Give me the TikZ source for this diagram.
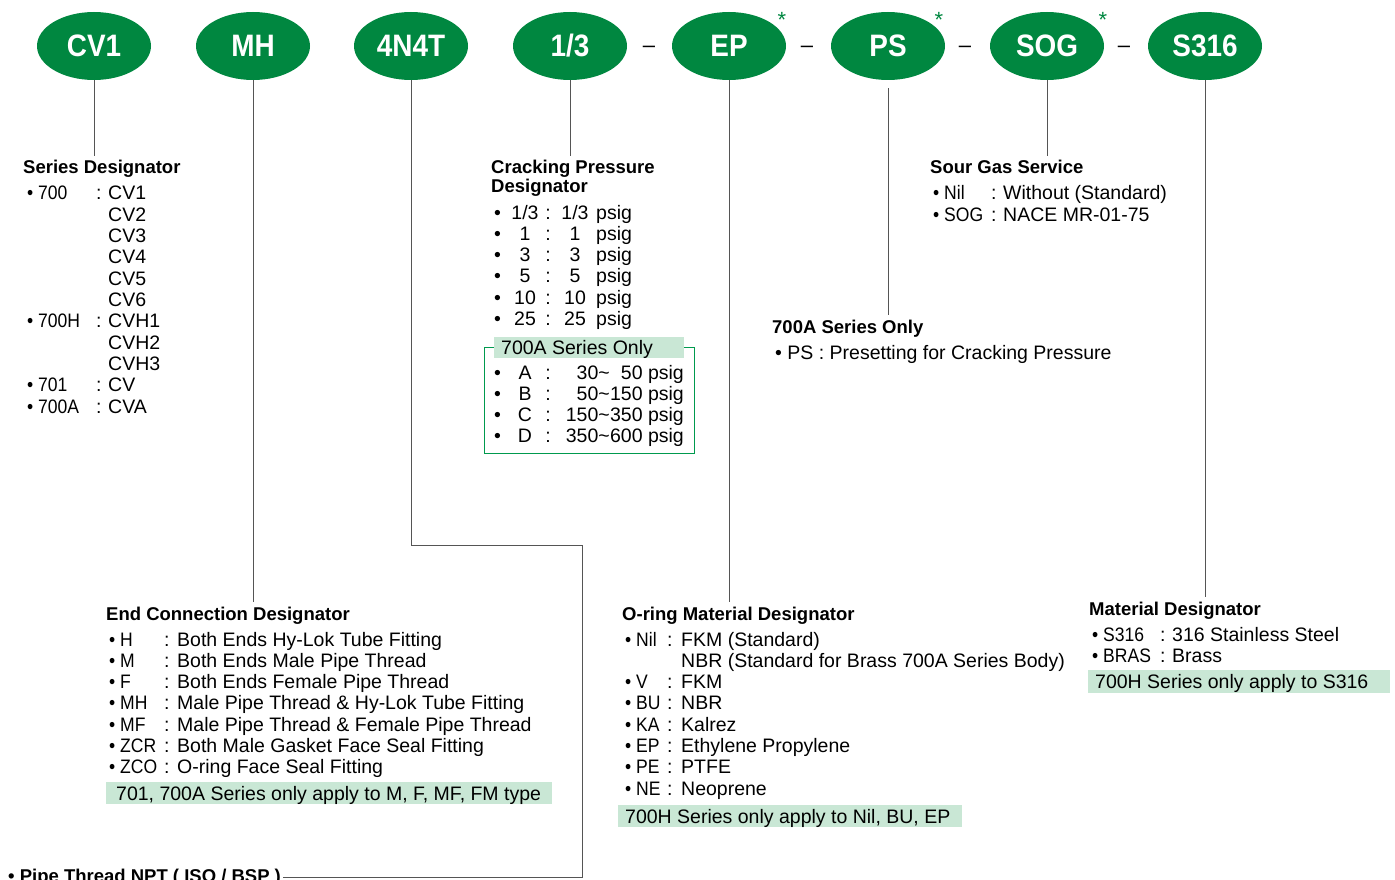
\documentclass[tikz,border=0pt]{standalone}
\usepackage{fontspec}
\setmainfont{Liberation Sans}
\usetikzlibrary{shapes.geometric}
\definecolor{hygreen}{RGB}{0,135,64}
\definecolor{hylight}{RGB}{201,231,213}
\definecolor{hyline}{RGB}{85,85,85}
\definecolor{hybox}{RGB}{0,154,78}
\tikzset{
  code/.style={ellipse, fill=hygreen, text=white, minimum width=114pt, minimum height=68pt, inner sep=0pt, font=\bfseries\fontsize{31}{31}\selectfont\addfontfeature{FakeStretch=0.9}},
  head/.style={anchor=base west, inner sep=0pt, font=\bfseries\fontsize{18.5}{19}\selectfont},
  txt/.style={anchor=base west, inner sep=0pt, font=\fontsize{19.5}{20}\selectfont},
  key/.style={txt, font=\fontsize{19.5}{20}\selectfont\addfontfeature{FakeStretch=0.9}},
  txtr/.style={txt, anchor=base east},
  txtc/.style={txt, anchor=base},
  sep/.style={anchor=base, inner sep=0pt, font=\fontsize{22}{22}\selectfont},
  lead/.style={draw=hyline, line width=1pt, shorten >=4pt},
  star/.style={text=hygreen, inner sep=0pt, font=\fontsize{22}{22}\selectfont}
}
\begin{document}
\begin{tikzpicture}[x=1pt,y=-1pt]
\useasboundingbox (0,0) rectangle (1395,880);
% ordering code
\node[code] (cv) at (94,46) {CV1};
\node[code] (mh) at (253,46) {MH};
\node[code] (nt) at (411,46) {4N4T};
\node[code] (cp) at (570,46) {1/3};
\node[code] (ep) at (729,46) {EP};
\node[code] (ps) at (888,46) {PS};
\node[code] (sg) at (1047,46) {SOG};
\node[code] (mt) at (1205,46) {S316};
\node[sep] (dash1) at (649,53) {–};
\node[sep] (dash2) at (807,53) {–};
\node[sep] (dash3) at (965,53) {–};
\node[sep] (dash4) at (1124,53) {–};
\node[star] (ast1) at (782,20) {*};
\node[star] (ast2) at (939,20) {*};
\node[star] (ast3) at (1103,20) {*};

% series
\node[head] (serieshd) at (23,174) {Series Designator};
\node[key] (se1) at (27,200) {• 700};
\node[txt] (se1c) at (96,200) {:};
\node[txt] (se1v) at (108,200) {CV1};
\node[txt] (se2v) at (108,221.3) {CV2};
\node[txt] (se3v) at (108,242.6) {CV3};
\node[txt] (se4v) at (108,263.9) {CV4};
\node[txt] (se5v) at (108,285.2) {CV5};
\node[txt] (se6v) at (108,306.5) {CV6};
\node[key] (se7) at (27,327.8) {• 700H};
\node[txt] (se7c) at (96,327.8) {:};
\node[txt] (se7v) at (108,327.8) {CVH1};
\node[txt] (se8v) at (108,349.1) {CVH2};
\node[txt] (se9v) at (108,370.4) {CVH3};
\node[key] (se10) at (27,391.7) {• 701};
\node[txt] (se10c) at (96,391.7) {:};
\node[txt] (se10v) at (108,391.7) {CV};
\node[key] (se11) at (27,413) {• 700A};
\node[txt] (se11c) at (96,413) {:};
\node[txt] (se11v) at (108,413) {CVA};

% cracking pressure
\node[head, align=left] (crackhd) at (491,193) {Cracking Pressure\\Designator};
\node[txt] (cr1b) at (494,219) {•};
\node[txtc] (cr1k) at (525,219) {1/3};
\node[txtc] (cr1c) at (548,219) {:};
\node[txtc] (cr1v) at (575,219) {1/3};
\node[txt] (cr1u) at (596,219) {psig};
\node[txt] (cr2b) at (494,240.3) {•};
\node[txtc] (cr2k) at (525,240.3) {1};
\node[txtc] (cr2c) at (548,240.3) {:};
\node[txtc] (cr2v) at (575,240.3) {1};
\node[txt] (cr2u) at (596,240.3) {psig};
\node[txt] (cr3b) at (494,261.6) {•};
\node[txtc] (cr3k) at (525,261.6) {3};
\node[txtc] (cr3c) at (548,261.6) {:};
\node[txtc] (cr3v) at (575,261.6) {3};
\node[txt] (cr3u) at (596,261.6) {psig};
\node[txt] (cr4b) at (494,282.9) {•};
\node[txtc] (cr4k) at (525,282.9) {5};
\node[txtc] (cr4c) at (548,282.9) {:};
\node[txtc] (cr4v) at (575,282.9) {5};
\node[txt] (cr4u) at (596,282.9) {psig};
\node[txt] (cr5b) at (494,304.2) {•};
\node[txtc] (cr5k) at (525,304.2) {10};
\node[txtc] (cr5c) at (548,304.2) {:};
\node[txtc] (cr5v) at (575,304.2) {10};
\node[txt] (cr5u) at (596,304.2) {psig};
\node[txt] (cr6b) at (494,325.5) {•};
\node[txtc] (cr6k) at (525,325.5) {25};
\node[txtc] (cr6c) at (548,325.5) {:};
\node[txtc] (cr6v) at (575,325.5) {25};
\node[txt] (cr6u) at (596,325.5) {psig};

% 700A box
\draw[hybox, line width=1pt] (484,347) rectangle (694,453);
\fill[hylight] (494,337) rectangle (684,358);
\node[txt] (boxnote) at (501,354.5) {700A Series Only};
\node[txt] (bx1b) at (494,379) {•};
\node[txtc] (bx1k) at (525,379) {A};
\node[txtc] (bx1c) at (548,379) {:};
\node[txtr] (bx1l) at (610,379) {30\textasciitilde};
\node[txtr] (bx1r) at (684,379) {50 psig};
\node[txt] (bx2b) at (494,400.3) {•};
\node[txtc] (bx2k) at (525,400.3) {B};
\node[txtc] (bx2c) at (548,400.3) {:};
\node[txtr] (bx2l) at (610,400.3) {50\textasciitilde};
\node[txtr] (bx2r) at (684,400.3) {150 psig};
\node[txt] (bx3b) at (494,421.6) {•};
\node[txtc] (bx3k) at (525,421.6) {C};
\node[txtc] (bx3c) at (548,421.6) {:};
\node[txtr] (bx3l) at (610,421.6) {150\textasciitilde};
\node[txtr] (bx3r) at (684,421.6) {350 psig};
\node[txt] (bx4b) at (494,442.9) {•};
\node[txtc] (bx4k) at (525,442.9) {D};
\node[txtc] (bx4c) at (548,442.9) {:};
\node[txtr] (bx4l) at (610,442.9) {350\textasciitilde};
\node[txtr] (bx4r) at (684,442.9) {600 psig};

% sour gas
\node[head] (sourhd) at (930,174) {Sour Gas Service};
\node[key] (so1) at (933,200) {• Nil};
\node[txt] (so1c) at (991,200) {:};
\node[txt] (so1v) at (1003,200) {Without (Standard)};
\node[key] (so2) at (933,221.3) {• SOG};
\node[txt] (so2c) at (991,221.3) {:};
\node[txt] (so2v) at (1003,221.3) {NACE MR-01-75};

% presetting
\node[head] (pshd) at (772,333) {700A Series Only};
\node[txt] (ps1) at (775,359) {• PS : Presetting for Cracking Pressure};

% end connection
\node[head] (endhd) at (106,620) {End Connection Designator};
\node[key] (en1) at (109,646) {• H};
\node[txt] (en1c) at (164,646) {:};
\node[txt] (en1v) at (177,646) {Both Ends Hy-Lok Tube Fitting};
\node[key] (en2) at (109,667.3) {• M};
\node[txt] (en2c) at (164,667.3) {:};
\node[txt] (en2v) at (177,667.3) {Both Ends Male Pipe Thread};
\node[key] (en3) at (109,688.6) {• F};
\node[txt] (en3c) at (164,688.6) {:};
\node[txt] (en3v) at (177,688.6) {Both Ends Female Pipe Thread};
\node[key] (en4) at (109,709.9) {• MH};
\node[txt] (en4c) at (164,709.9) {:};
\node[txt] (en4v) at (177,709.9) {Male Pipe Thread \& Hy-Lok Tube Fitting};
\node[key] (en5) at (109,731.2) {• MF};
\node[txt] (en5c) at (164,731.2) {:};
\node[txt] (en5v) at (177,731.2) {Male Pipe Thread \& Female Pipe Thread};
\node[key] (en6) at (109,752.5) {• ZCR};
\node[txt] (en6c) at (164,752.5) {:};
\node[txt] (en6v) at (177,752.5) {Both Male Gasket Face Seal Fitting};
\node[key] (en7) at (109,773.8) {• ZCO};
\node[txt] (en7c) at (164,773.8) {:};
\node[txt] (en7v) at (177,773.8) {O-ring Face Seal Fitting};
\fill[hylight] (106,782) rectangle (552,804);
\node[txt] (endnote) at (116,800) {701, 700A Series only apply to M, F, MF, FM type};

% o-ring
\node[head] (oringhd) at (622,620) {O-ring Material Designator};
\node[key] (or1) at (625,646) {• Nil};
\node[txt] (or1c) at (667,646) {:};
\node[txt] (or1v) at (681,646) {FKM (Standard)};
\node[txt] (or2v) at (681,667.3) {NBR (Standard for Brass 700A Series Body)};
\node[key] (or3) at (625,688.6) {• V};
\node[txt] (or3c) at (667,688.6) {:};
\node[txt] (or3v) at (681,688.6) {FKM};
\node[key] (or4) at (625,709.9) {• BU};
\node[txt] (or4c) at (667,709.9) {:};
\node[txt] (or4v) at (681,709.9) {NBR};
\node[key] (or5) at (625,731.2) {• KA};
\node[txt] (or5c) at (667,731.2) {:};
\node[txt] (or5v) at (681,731.2) {Kalrez};
\node[key] (or6) at (625,752.5) {• EP};
\node[txt] (or6c) at (667,752.5) {:};
\node[txt] (or6v) at (681,752.5) {Ethylene Propylene};
\node[key] (or7) at (625,773.8) {• PE};
\node[txt] (or7c) at (667,773.8) {:};
\node[txt] (or7v) at (681,773.8) {PTFE};
\node[key] (or8) at (625,795.1) {• NE};
\node[txt] (or8c) at (667,795.1) {:};
\node[txt] (or8v) at (681,795.1) {Neoprene};
\fill[hylight] (618,805) rectangle (962,827);
\node[txt] (oringnote) at (625,823) {700H Series only apply to Nil, BU, EP};

% material
\node[head] (mathd) at (1089,615) {Material Designator};
\node[key] (ma1) at (1092,641) {• S316};
\node[txt] (ma1c) at (1160,641) {:};
\node[txt] (ma1v) at (1172,641) {316 Stainless Steel};
\node[key] (ma2) at (1092,662.3) {• BRAS};
\node[txt] (ma2c) at (1160,662.3) {:};
\node[txt] (ma2v) at (1172,662.3) {Brass};
\fill[hylight] (1088,670) rectangle (1390,693);
\node[txt] (matnote) at (1095,688.5) {700H Series only apply to S316};

% pipe thread
\node[head] (pipehd) at (8,882) {• Pipe Thread NPT ( ISO / BSP )};

% leads
\draw[lead] (cv.south) -- (cv.south |- serieshd.north);
\draw[lead] (mh.south) -- (mh.south |- endhd.north);
\draw[lead] (cp.south) -- (cp.south |- crackhd.north);
\draw[lead] (ep.south) -- (ep.south |- oringhd.north);
\draw[lead] ([yshift=-8pt]ps.south) -- (ps.south |- pshd.north);
\draw[lead] (sg.south) -- (sg.south |- sourhd.north);
\draw[lead] (mt.south) -- (mt.south |- mathd.north);
\coordinate (ntbend) at (582,545);
\draw[draw=hyline, line width=1pt] (nt.south) |- (ntbend) |- ([xshift=2pt]pipehd.east);
\end{tikzpicture}
\end{document}
